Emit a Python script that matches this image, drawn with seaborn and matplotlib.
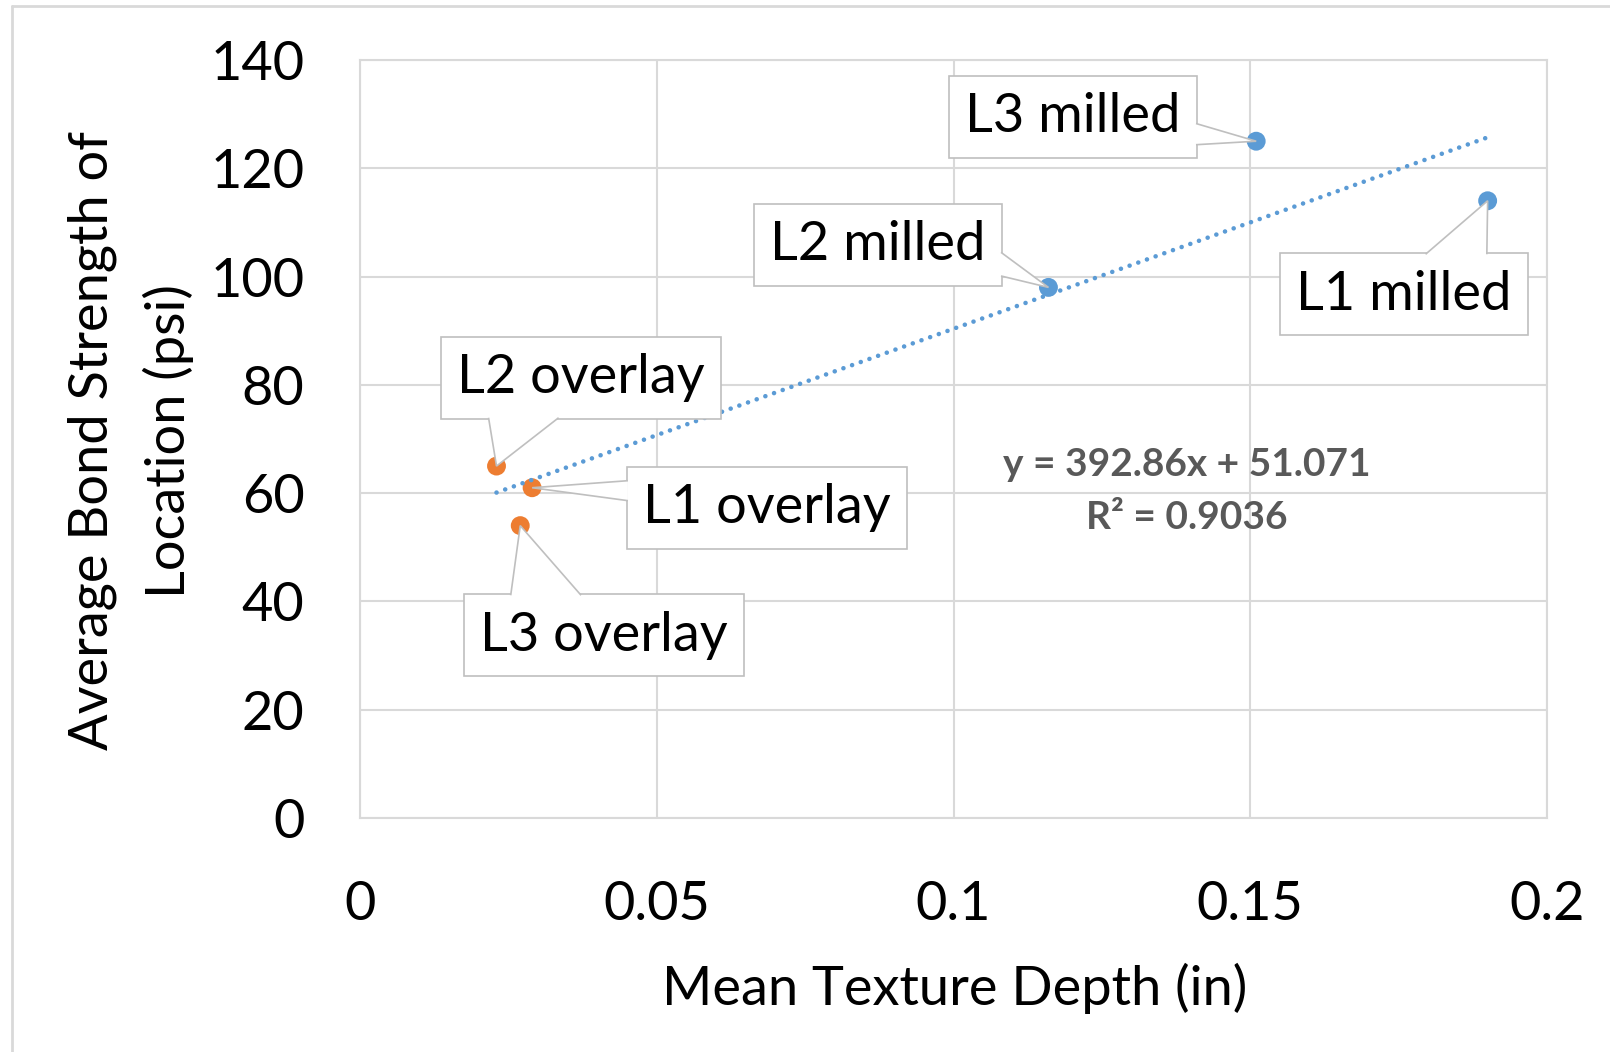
import matplotlib
matplotlib.use("Agg")
import matplotlib.pyplot as plt
from matplotlib.lines import Line2D
from matplotlib.patches import Polygon
from matplotlib.transforms import IdentityTransform
import numpy as np
import pandas as pd
import seaborn as sns

# ---------------- data ----------------
labels = ["L3 milled", "L1 milled", "L2 milled", "L2 overlay", "L1 overlay", "L3 overlay"]
depth = [0.151, 0.190, 0.116, 0.023, 0.029, 0.027]
strength = [125, 114, 98, 65, 61, 54]
surface = ["milled", "milled", "milled", "overlay", "overlay", "overlay"]
x_ticks = [0, 0.05, 0.1, 0.15, 0.2]
x_tick_labels = ["0", "0.05", "0.1", "0.15", "0.2"]
y_ticks = [0, 20, 40, 60, 80, 100, 120, 140]
y_tick_labels = ["0", "20", "40", "60", "80", "100", "120", "140"]
equation_text = "y = 392.86x + 51.071\nR² = 0.9036"
x_label = "Mean Texture Depth (in)"
y_label = "Average Bond Strength of\nLocation (psi)"

# ---------------- layout (pixels, top-left origin) ----------------
W, H = 1610, 1052
label_centers = {
    "L3 milled": (1073, 117),
    "L1 milled": (1404, 294),
    "L2 milled": (878, 245),
    "L2 overlay": (581, 378),
    "L1 overlay": (767, 508),
    "L3 overlay": (604, 635),
}
# callout notch: box side and fraction range along that side
# (left->right for top/bottom, bottom->top for left/right)
callout_notch = {
    "L3 milled": ("right", 0.16, 0.42),
    "L1 milled": ("top", 0.587, 0.834),
    "L2 milled": ("right", 0.12, 0.41),
    "L2 overlay": ("bottom", 0.17, 0.42),
    "L1 overlay": ("left", 0.59, 0.835),
    "L3 overlay": ("top", 0.167, 0.418),
}

sns.set_theme(style="white")
plt.rcParams["font.family"] = ["Lato", "DejaVu Sans"]

fig = plt.figure(figsize=(W / 100, H / 100), dpi=100)
ax = fig.add_axes([360 / W, 1 - 818 / H, (1547 - 360) / W, (818 - 60) / H])

df = pd.DataFrame({"label": labels, "depth": depth, "strength": strength, "surface": surface})

grid_c = "#D9D9D9"
call_c = "#BFBFBF"
ax.set_xlim(0, 0.2)
ax.set_ylim(0, 140)
ax.set_xticks(x_ticks)
ax.set_xticklabels(x_tick_labels)
ax.set_yticks(y_ticks)
ax.set_yticklabels(y_tick_labels)
ax.grid(True, color=grid_c, lw=1.5, zorder=0)
ax.set_axisbelow(True)
for s in ax.spines.values():
    s.set_color(grid_c)
    s.set_linewidth(1.5)
ax.tick_params(axis="both", length=0, labelsize=39, labelcolor="black")
ax.tick_params(axis="x", pad=45)
ax.tick_params(axis="y", pad=40)

sns.scatterplot(data=df, x="depth", y="strength", hue="surface",
                palette={"milled": "#5B9BD5", "overlay": "#ED7D31"},
                s=185, linewidth=0, legend=False, ax=ax, zorder=3)

sns.regplot(data=df, x="depth", y="strength", ci=None, scatter=False, ax=ax,
            color="#5B9BD5",
            line_kws=dict(lw=3.3, ls=(0, (0.01, 2.0)), dash_capstyle="round", zorder=4))

ax.set_xlabel("")
ax.set_ylabel("")

anns = {}
for lab in labels:
    cx, cy = label_centers[lab]
    anns[lab] = ax.annotate(lab, xy=(cx, H - cy), xycoords="figure pixels",
                            ha="center", va="center", fontsize=39, color="black",
                            bbox=dict(boxstyle="square,pad=0.3", fc="white", ec=call_c, lw=1.2),
                            zorder=5, annotation_clip=False)

fig.text(1187 / W, 1 - 491 / H, equation_text, ha="center", va="center",
         multialignment="center", fontsize=28, fontweight="bold", color="#595959",
         linespacing=1.62)

fig.text(955 / W, 1 - 988 / H, x_label, ha="center", va="center", fontsize=39, color="black")
fig.text(131 / W, 1 - 441 / H, y_label, ha="center", va="center", rotation=90,
         multialignment="center", fontsize=39, color="black", linespacing=1.6)

# outer chart border (partially visible)
fig.add_artist(Line2D([12 / W, 12 / W], [0, 1 - 6 / H], transform=fig.transFigure,
                      color=grid_c, lw=2))
fig.add_artist(Line2D([12 / W, 1], [1 - 6 / H, 1 - 6 / H], transform=fig.transFigure,
                      color=grid_c, lw=2))

# callout notches from each label box to its data point
fig.canvas.draw()
renderer = fig.canvas.get_renderer()
for lab, x, y in zip(labels, depth, strength):
    bb = anns[lab].get_bbox_patch().get_window_extent(renderer)
    side, f0, f1 = callout_notch[lab]
    inset = 1.0
    if side == "top":
        p0 = (bb.x0 + f0 * bb.width, bb.y1 - inset)
        p1 = (bb.x0 + f1 * bb.width, bb.y1 - inset)
    elif side == "bottom":
        p0 = (bb.x0 + f0 * bb.width, bb.y0 + inset)
        p1 = (bb.x0 + f1 * bb.width, bb.y0 + inset)
    elif side == "left":
        p0 = (bb.x0 + inset, bb.y0 + f0 * bb.height)
        p1 = (bb.x0 + inset, bb.y0 + f1 * bb.height)
    else:
        p0 = (bb.x1 - inset, bb.y0 + f0 * bb.height)
        p1 = (bb.x1 - inset, bb.y0 + f1 * bb.height)
    apex = tuple(ax.transData.transform((x, y)))
    poly = Polygon([p0, apex, p1], closed=False, transform=IdentityTransform(),
                   fc="white", ec=call_c, lw=1.2, zorder=6)
    fig.add_artist(poly)

fig.savefig("out.png", dpi=100, facecolor="white")
